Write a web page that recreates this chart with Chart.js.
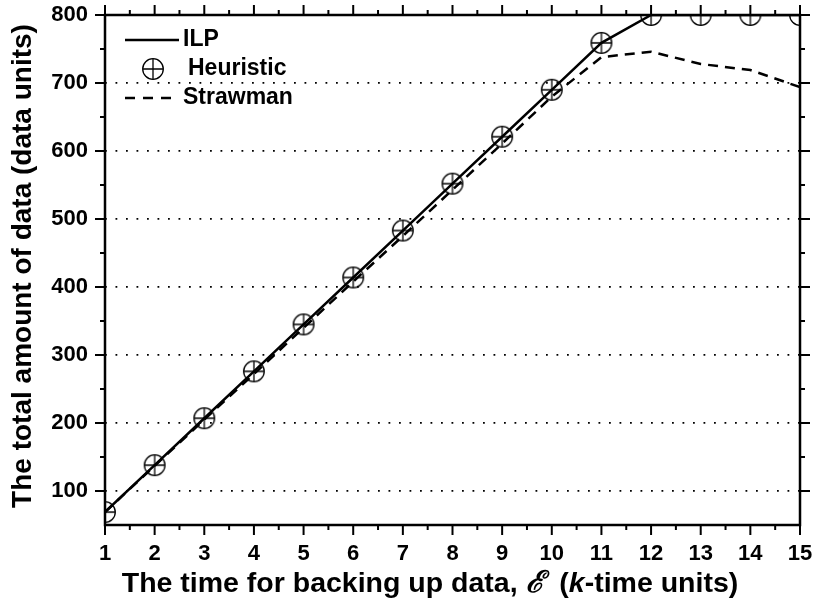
<!DOCTYPE html>
<html>
<head>
<meta charset="utf-8">
<script src="https://cdn.jsdelivr.net/npm/chart.js@4.4.1/dist/chart.umd.min.js"></script>
<style>
  body { margin: 0; background: #fff; }
  #caja { width: 816px; height: 608px; }
</style>
</head>
<body>
<div id="caja"><canvas id="cuadroGrafico"></canvas></div>
<script>

// time for backing up data (k-time units)
var tiempos = [1, 2, 3, 4, 5, 6, 7, 8, 9, 10, 11, 12, 13, 14, 15];
var valoresILP = [69, 138, 207, 276, 345, 414, 483, 552, 621, 690, 759, 800, 800, 800, 800];
var valoresHeuristic = [69, 138, 207, 276, 345, 414, 483, 552, 621, 690, 759, 800, 800, 800, 800];
var valoresStrawman = [69, 137, 205, 272, 340, 408, 475, 543, 611, 680, 738, 746, 728, 719, 694];
var ticksY = [100, 200, 300, 400, 500, 600, 700, 800];

var fuente = "'Liberation Sans', Arial, sans-serif";


function crearMarcador () {
    var c = document.createElement('canvas');
    c.width = 24;
    c.height = 24;
    var ctx = c.getContext('2d');
    ctx.strokeStyle = '#000';
    ctx.lineWidth = 1.3;
    ctx.beginPath();
    ctx.arc(12, 12, 10.3, 0, 2 * Math.PI);
    ctx.stroke();
    ctx.beginPath();
    ctx.moveTo(2, 12); ctx.lineTo(22, 12);
    ctx.moveTo(12, 2); ctx.lineTo(12, 22);
    ctx.stroke();
    return c;
}

var marcador = crearMarcador();

function puntos (valores) {
    return tiempos.map(function (t, i) { return {x: t, y: valores[i]}; });
}


// frame with outward ticks on all four sides
var marco = {
    id: 'marco',
    afterDatasetsDraw: function (chart) {
        var ctx = chart.ctx;
        var a = chart.chartArea;
        var sx = chart.scales.x;
        var sy = chart.scales.y;
        ctx.save();
        ctx.strokeStyle = '#000';
        ctx.lineWidth = 2.5;
        ctx.strokeRect(a.left, a.top, a.right - a.left, a.bottom - a.top);
        ctx.lineWidth = 2;
        ctx.beginPath();
        for (var v = 1; v <= 15; v += 0.5) {
            var px = sx.getPixelForValue(v);
            var largo = (v % 1 === 0) ? 10 : 5;
            ctx.moveTo(px, a.bottom); ctx.lineTo(px, a.bottom + largo);
            ctx.moveTo(px, a.top); ctx.lineTo(px, a.top - largo);
        }
        for (var w = 100; w <= 800; w += 50) {
            var py = sy.getPixelForValue(w);
            var largoY = (w % 100 === 0) ? 10 : 5;
            ctx.moveTo(a.left, py); ctx.lineTo(a.left - largoY, py);
            ctx.moveTo(a.right, py); ctx.lineTo(a.right + largoY, py);
        }
        ctx.stroke();
        ctx.restore();
    },
    afterDraw: function (chart) {
        var ctx = chart.ctx;
        var ds = chart.data.datasets;
        ctx.save();
        ctx.fillStyle = '#000';
        ctx.strokeStyle = '#000';
        ctx.textBaseline = 'middle';
        ctx.font = 'bold 23px ' + fuente;

        // legend
        ctx.lineWidth = 2.5;
        ctx.beginPath();
        ctx.moveTo(125, 40); ctx.lineTo(179, 40);
        ctx.stroke();
        ctx.fillText(ds[0].label, 183, 40);
        ctx.drawImage(marcador, 153 - 12, 69 - 12);
        ctx.fillText(ds[1].label, 188, 69);
        ctx.setLineDash([10, 8]);
        ctx.beginPath();
        ctx.moveTo(125, 98); ctx.lineTo(179, 98);
        ctx.stroke();
        ctx.setLineDash([]);
        ctx.fillText(ds[2].label, 183, 98);

        // x axis title, mixed styles
        var partes = [
            {t: 'The time for backing up data, ', f: 'bold 28.5px ' + fuente},
            {t: '\u2130', f: 'bold italic 30px \'DejaVu Serif\', serif'},
            {t: '  (', f: 'bold 28.5px ' + fuente},
            {t: 'k', f: 'italic bold 28.5px ' + fuente},
            {t: '-time units)', f: 'bold 28.5px ' + fuente}
        ];
        var total = 0;
        partes.forEach(function (p) { ctx.font = p.f; total += ctx.measureText(p.t).width; });
        var x = 430 - total / 2;
        partes.forEach(function (p) {
            ctx.font = p.f;
            ctx.fillText(p.t, x, 584);
            x += ctx.measureText(p.t).width;
        });

        // y axis title
        ctx.translate(23, 266);
        ctx.rotate(-Math.PI / 2);
        ctx.textAlign = 'center';
        ctx.font = 'bold 28px ' + fuente;
        ctx.fillText('The total amount of data (data units)', 0, 0);
        ctx.restore();
    }
};


var cuadroGrafico = document.getElementById('cuadroGrafico');

var grafico = new Chart(cuadroGrafico, {
    type: 'line',
    data: {
        datasets: [{
            label: 'ILP',
            data: puntos(valoresILP),
            borderColor: '#000',
            borderWidth: 2.5,
            pointRadius: 0,
            lineTension: 0,
            clip: 0
        }, {
            label: 'Heuristic',
            data: puntos(valoresHeuristic),
            showLine: false,
            pointStyle: marcador,
            pointRadius: 10,
            clip: 0
        }, {
            label: 'Strawman',
            data: puntos(valoresStrawman),
            borderColor: '#000',
            borderWidth: 2.5,
            borderDash: [10, 7],
            pointRadius: 0,
            lineTension: 0,
            clip: 0
        }]
    },
    options: {
        responsive: true,
        maintainAspectRatio: false,
        animation: false,
        layout: { padding: { top: 15, right: 16, left: 0, bottom: 0 } },
        plugins: {
            legend: { display: false },
            tooltip: { enabled: false }
        },
        scales: {
            x: {
                type: 'linear',
                min: 1,
                max: 15,
                afterFit: function (scale) {
                    scale.height = 83;
                    scale.paddingLeft = 0;
                    scale.paddingRight = 0;
                },
                grid: { display: false },
                border: { display: false },
                ticks: {
                    stepSize: 1,
                    padding: 8,
                    color: '#000',
                    maxRotation: 0,
                    font: { family: fuente, size: 22, weight: 'bold' }
                }
            },
            y: {
                min: 50,
                max: 800,
                afterFit: function (scale) {
                    scale.width = 105;
                    scale.paddingTop = 0;
                    scale.paddingBottom = 0;
                },
                afterBuildTicks: function (scale) {
                    scale.ticks = ticksY.map(function (v) { return {value: v}; });
                },
                grid: {
                    color: '#000',
                    lineWidth: 1.8,
                    drawTicks: false
                },
                border: { display: false, dash: [1.8, 8.7] },
                ticks: {
                    padding: 17,
                    color: '#000',
                    font: { family: fuente, size: 22, weight: 'bold' }
                }
            }
        }
    },
    plugins: [marco]
});

</script>
</body>
</html>
